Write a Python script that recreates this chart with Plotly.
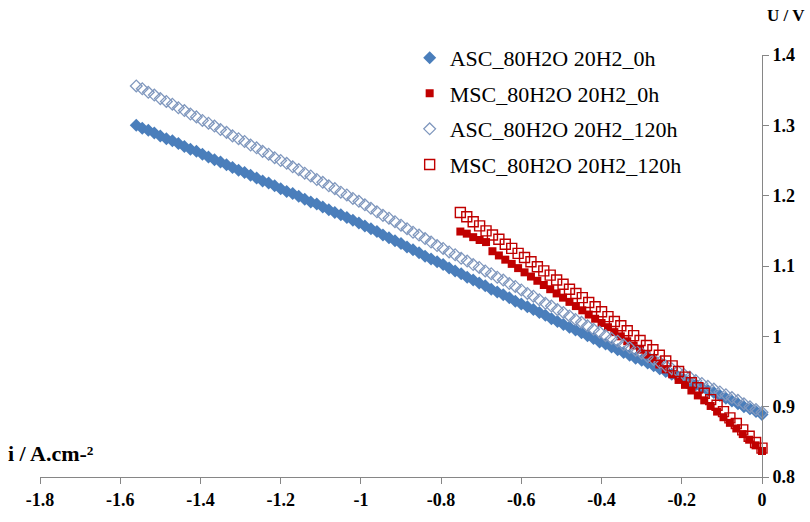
import plotly.graph_objects as go

# Current density (A/cm2) shared by the two ASC series
x_asc = [-1.560, -1.545, -1.530, -1.515, -1.500, -1.485, -1.470, -1.455, -1.440, -1.425,
         -1.410, -1.395, -1.380, -1.365, -1.350, -1.335, -1.320, -1.305, -1.290, -1.275,
         -1.260, -1.245, -1.230, -1.215, -1.200, -1.185, -1.170, -1.155, -1.140, -1.125,
         -1.110, -1.095, -1.080, -1.065, -1.050, -1.035, -1.020, -1.005, -0.990, -0.975,
         -0.960, -0.945, -0.930, -0.915, -0.900, -0.885, -0.870, -0.855, -0.840, -0.825,
         -0.810, -0.795, -0.780, -0.765, -0.750, -0.735, -0.720, -0.705, -0.690, -0.675,
         -0.660, -0.645, -0.630, -0.615, -0.600, -0.585, -0.570, -0.555, -0.540, -0.525,
         -0.510, -0.495, -0.480, -0.465, -0.450, -0.435, -0.420, -0.405, -0.390, -0.375,
         -0.360, -0.345, -0.330, -0.315, -0.300, -0.285, -0.270, -0.255, -0.240, -0.225,
         -0.210, -0.195, -0.180, -0.165, -0.150, -0.135, -0.120, -0.105, -0.090, -0.075,
         -0.060, -0.045, -0.030, -0.015, 0.000]

u_asc_0h = [1.300, 1.296, 1.293, 1.289, 1.285, 1.281, 1.278, 1.274, 1.270, 1.266,
            1.263, 1.259, 1.255, 1.251, 1.248, 1.244, 1.240, 1.236, 1.233, 1.229,
            1.225, 1.221, 1.218, 1.214, 1.210, 1.206, 1.203, 1.199, 1.195, 1.191,
            1.188, 1.184, 1.180, 1.176, 1.173, 1.169, 1.165, 1.161, 1.157, 1.153,
            1.149, 1.144, 1.140, 1.136, 1.132, 1.127, 1.123, 1.119, 1.114, 1.110,
            1.106, 1.102, 1.097, 1.093, 1.089, 1.084, 1.080, 1.076, 1.072, 1.067,
            1.063, 1.059, 1.055, 1.050, 1.046, 1.042, 1.038, 1.034, 1.030, 1.025,
            1.021, 1.017, 1.013, 1.009, 1.005, 1.001, 0.997, 0.992, 0.989, 0.985,
            0.981, 0.977, 0.973, 0.969, 0.966, 0.962, 0.958, 0.954, 0.950, 0.946,
            0.943, 0.939, 0.935, 0.931, 0.927, 0.923, 0.920, 0.916, 0.912, 0.908,
            0.904, 0.900, 0.897, 0.893, 0.889]

u_asc_120h = [1.356, 1.352, 1.347, 1.343, 1.338, 1.334, 1.330, 1.325, 1.321, 1.316,
              1.312, 1.307, 1.303, 1.299, 1.294, 1.290, 1.285, 1.281, 1.277, 1.272,
              1.268, 1.263, 1.259, 1.254, 1.250, 1.246, 1.241, 1.237, 1.232, 1.228,
              1.223, 1.219, 1.214, 1.210, 1.205, 1.201, 1.196, 1.192, 1.187, 1.182,
              1.177, 1.172, 1.168, 1.163, 1.158, 1.153, 1.148, 1.144, 1.139, 1.134,
              1.129, 1.125, 1.120, 1.116, 1.111, 1.107, 1.102, 1.098, 1.093, 1.089,
              1.084, 1.080, 1.075, 1.071, 1.066, 1.061, 1.057, 1.052, 1.047, 1.043,
              1.038, 1.034, 1.029, 1.024, 1.020, 1.015, 1.010, 1.006, 1.001, 0.997,
              0.993, 0.988, 0.984, 0.980, 0.976, 0.971, 0.967, 0.963, 0.958, 0.954,
              0.950, 0.946, 0.942, 0.937, 0.933, 0.929, 0.925, 0.921, 0.917, 0.913,
              0.909, 0.904, 0.900, 0.896, 0.892]

# Current density shared by the two MSC series
x_msc = [-0.752, -0.736, -0.720, -0.704, -0.688, -0.672, -0.656, -0.640, -0.624, -0.608,
         -0.592, -0.576, -0.560, -0.544, -0.528, -0.512, -0.496, -0.480, -0.464, -0.448,
         -0.432, -0.416, -0.400, -0.384, -0.368, -0.352, -0.336, -0.320, -0.304, -0.288,
         -0.272, -0.256, -0.240, -0.224, -0.208, -0.192, -0.176, -0.160, -0.144, -0.128,
         -0.112, -0.096, -0.080, -0.064, -0.048, -0.032, -0.016, 0.000]

u_msc_0h = [1.149, 1.146, 1.141, 1.137, 1.134, 1.121, 1.115, 1.109, 1.103, 1.097,
            1.091, 1.085, 1.079, 1.073, 1.067, 1.061, 1.055, 1.049, 1.043, 1.037,
            1.031, 1.025, 1.019, 1.013, 1.006, 1.000, 0.993, 0.987, 0.981, 0.974,
            0.968, 0.960, 0.953, 0.946, 0.938, 0.931, 0.923, 0.916, 0.909, 0.901,
            0.893, 0.885, 0.877, 0.869, 0.861, 0.853, 0.845, 0.837]

u_msc_120h = [1.176, 1.170, 1.163, 1.157, 1.150, 1.144, 1.138, 1.131, 1.125, 1.118,
              1.112, 1.106, 1.099, 1.093, 1.087, 1.080, 1.074, 1.067, 1.061, 1.055,
              1.048, 1.042, 1.035, 1.028, 1.021, 1.015, 1.008, 1.001, 0.994, 0.987,
              0.981, 0.973, 0.965, 0.958, 0.950, 0.942, 0.934, 0.927, 0.919, 0.910,
              0.902, 0.893, 0.884, 0.876, 0.867, 0.858, 0.849, 0.841]

names = ["ASC_80H2O 20H2_0h", "MSC_80H2O 20H2_0h", "ASC_80H2O 20H2_120h", "MSC_80H2O 20H2_120h"]

x_ticks = [-1.8, -1.6, -1.4, -1.2, -1, -0.8, -0.6, -0.4, -0.2, 0]
x_tick_text = ["-1.8", "-1.6", "-1.4", "-1.2", "-1", "-0.8", "-0.6", "-0.4", "-0.2", "0"]
y_ticks = [0.8, 0.9, 1.0, 1.1, 1.2, 1.3, 1.4]
y_tick_text = ["0.8", "0.9", "1", "1.1", "1.2", "1.3", "1.4"]

BLUE = "#4A7EBB"
BLUE_OPEN = "#8098BE"
RED = "#C00000"
SERIF = "Liberation Serif"

fig = go.Figure()
fig.add_trace(go.Scatter(
    x=x_asc, y=u_asc_0h, mode="markers", name=names[0], legendgroup="a",
    marker=dict(symbol="diamond", size=10, color=BLUE, line=dict(width=0)),
    cliponaxis=False))
fig.add_trace(go.Scatter(
    x=x_msc, y=u_msc_0h, mode="markers", name=names[1], legendgroup="b",
    marker=dict(symbol="square", size=8, color=RED, line=dict(width=0)),
    cliponaxis=False))
fig.add_trace(go.Scatter(
    x=x_asc, y=u_asc_120h, mode="markers", name=names[2], legendgroup="c",
    marker=dict(symbol="diamond-open", size=9, color=BLUE_OPEN, line=dict(width=1.3)),
    cliponaxis=False))
fig.add_trace(go.Scatter(
    x=x_msc, y=u_msc_120h, mode="markers", name=names[3], legendgroup="d",
    marker=dict(symbol="square-open", size=10, color=RED, line=dict(width=1.4)),
    cliponaxis=False))

fig.update_layout(
    width=810, height=522,
    margin=dict(l=40, r=48, t=55, b=36),
    paper_bgcolor="white", plot_bgcolor="white",
    showlegend=True,
    legend=dict(
        x=0.512, y=1.043, xanchor="left", yanchor="top",
        font=dict(family=SERIF, size=22, color="black"),
        tracegroupgap=4, traceorder="grouped",
        itemwidth=30,
        bgcolor="rgba(255,255,255,0)",
    ),
    xaxis=dict(
        range=[-1.8, 0], tickvals=x_ticks, ticktext=x_tick_text,
        showgrid=False, zeroline=False,
        showline=True, linecolor="#868686", linewidth=1,
        ticks="outside", ticklen=6, tickcolor="#868686",
        tickfont=dict(family=SERIF, size=18, color="black", weight="bold"),
    ),
    yaxis=dict(
        range=[0.8, 1.4], tickvals=y_ticks, ticktext=y_tick_text,
        side="right", showgrid=False, zeroline=False,
        showline=True, linecolor="#868686", linewidth=1,
        ticks="outside", ticklen=6, tickcolor="#868686",
        tickfont=dict(family=SERIF, size=18, color="black", weight="bold"),
    ),
    annotations=[
        dict(text="U / V", xref="paper", yref="paper", x=1.0, y=1.0,
             xanchor="center", yanchor="bottom", yshift=28, xshift=24, showarrow=False,
             font=dict(family=SERIF, size=17, color="black", weight="bold")),
        dict(text="i / A.cm-²", xref="paper", yref="paper", x=0, y=0.055,
             xanchor="left", yanchor="middle", xshift=-34, showarrow=False,
             font=dict(family=SERIF, size=22, color="black", weight="bold")),
    ],
)

fig.write_html("out.html")
